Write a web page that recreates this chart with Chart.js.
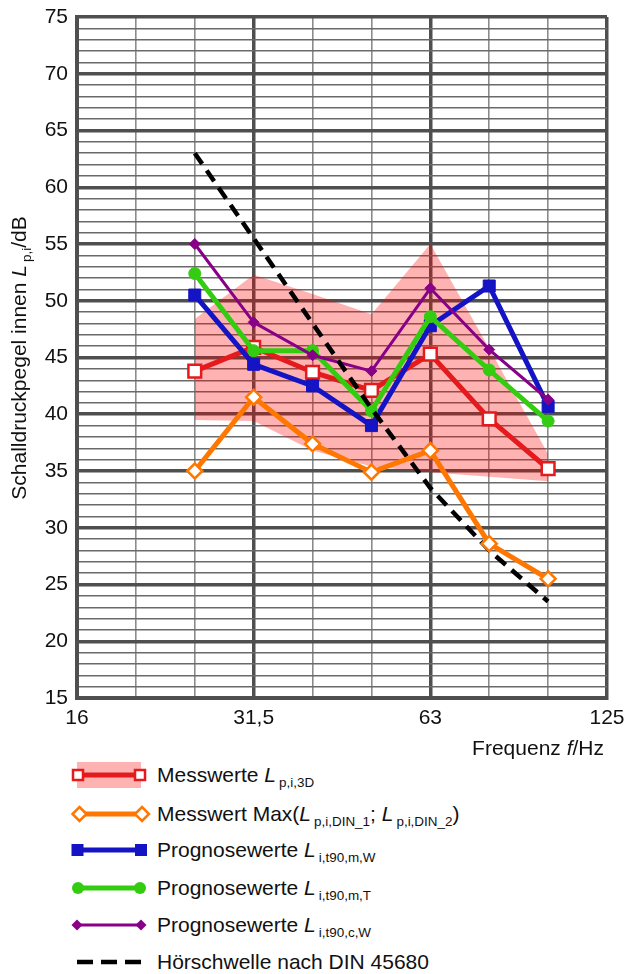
<!DOCTYPE html>
<html>
<head>
<meta charset="utf-8">
<script src="https://cdn.jsdelivr.net/npm/chart.js@4"></script>
<style>
  html, body { margin: 0; padding: 0; background: #fff; }
  body { width: 627px; height: 974px; position: relative; overflow: hidden;
         font-family: "Liberation Sans", Arial, sans-serif; color: #111; }
  #chart { position: absolute; left: 0; top: 0; }
  .ytitle { position: absolute; left: -131px; top: 346px; width: 300px; height: 24px;
            line-height: 24px; font-size: 21px; text-align: center; white-space: nowrap;
            transform: rotate(-90deg); transform-origin: 50% 50%; }
  .xtitle { position: absolute; right: 23px; top: 736px; line-height: 24px; font-size: 21px; white-space: nowrap; }
  .leg { position: absolute; left: 70px; height: 30px; display: flex; align-items: center;
         font-size: 21px; white-space: nowrap; }
  .leg svg { width: 87px; height: 30px; flex: none; }
  i { font-style: italic; }
  sub { font-size: 0.64em; vertical-align: -0.35em; line-height: 0; margin-left: 3px; }
</style>
</head>
<body>
<canvas id="chart" width="627" height="740"></canvas>

<div class="ytitle">Schalldruckpegel innen <i>L</i><sub>p,i</sub>/dB</div>
<div class="xtitle">Frequenz <i>f</i>/Hz</div>

<div class="leg" style="top:760px">
  <svg viewBox="0 0 87 30">
    <rect x="7" y="2" width="64" height="26" fill="#ffb2b2"/>
    <line x1="8" y1="15" x2="70" y2="15" stroke="#e41a1c" stroke-width="5"/>
    <rect x="3" y="10" width="10" height="10" fill="#fff" stroke="#e41a1c" stroke-width="2.5"/>
    <rect x="65" y="10" width="10" height="10" fill="#fff" stroke="#e41a1c" stroke-width="2.5"/>
  </svg>
  <span>Messwerte <i>L</i><sub>p,i,3D</sub></span>
</div>
<div class="leg" style="top:799px">
  <svg viewBox="0 0 87 30">
    <line x1="9" y1="15" x2="72" y2="15" stroke="#ff7700" stroke-width="5"/>
    <polygon points="9.5,8 16.5,15 9.5,22 2.5,15" fill="#fff" stroke="#ff7700" stroke-width="2.5"/>
    <polygon points="72,8 79,15 72,22 65,15" fill="#fff" stroke="#ff7700" stroke-width="2.5"/>
  </svg>
  <span>Messwert Max(<i>L</i><sub>p,i,DIN_1</sub>; <i>L</i><sub>p,i,DIN_2</sub>)</span>
</div>
<div class="leg" style="top:835px">
  <svg viewBox="0 0 87 30">
    <line x1="7" y1="15" x2="71" y2="15" stroke="#1414c4" stroke-width="5"/>
    <rect x="1.5" y="9" width="12" height="12" fill="#1414c4"/>
    <rect x="65" y="9" width="12" height="12" fill="#1414c4"/>
  </svg>
  <span>Prognosewerte <i>L</i><sub>i,t90,m,W</sub></span>
</div>
<div class="leg" style="top:873px">
  <svg viewBox="0 0 87 30">
    <line x1="8" y1="15" x2="70" y2="15" stroke="#33cc11" stroke-width="5"/>
    <circle cx="8" cy="15" r="6" fill="#33cc11"/>
    <circle cx="70" cy="15" r="6" fill="#33cc11"/>
  </svg>
  <span>Prognosewerte <i>L</i><sub>i,t90,m,T</sub></span>
</div>
<div class="leg" style="top:910px">
  <svg viewBox="0 0 87 30">
    <line x1="7" y1="15" x2="71" y2="15" stroke="#880088" stroke-width="3"/>
    <polygon points="7,9.5 12.5,15 7,20.5 1.5,15" fill="#880088"/>
    <polygon points="71,9.5 76.5,15 71,20.5 65.5,15" fill="#880088"/>
  </svg>
  <span>Prognosewerte <i>L</i><sub>i,t90,c,W</sub></span>
</div>
<div class="leg" style="top:947px">
  <svg viewBox="0 0 87 30">
    <line x1="7" y1="15" x2="71" y2="15" stroke="#000" stroke-width="4.5" stroke-dasharray="16 8"/>
  </svg>
  <span>Hörschwelle nach DIN 45680</span>
</div>

<script>
// third-octave bands, 16 Hz .. 125 Hz
const frequencies = ['16', '20', '25', '31,5', '40', '50', '63', '80', '100', '125'];
const labelledFreqs = ['16', '31,5', '63', '125'];

// measured and predicted levels in dB (null = no value at that band)
const messwerte   = [null, null, 43.8, 45.9, 43.7, 42.1, 45.3, 39.6, 35.2, null];
const messMax     = [null, null, 35.0, 41.5, 37.4, 34.9, 36.8, 28.6, 25.5, null];
const progMW      = [null, null, 50.5, 44.4, 42.5, 39.0, 47.8, 51.3, 40.7, null];
const progMT      = [null, null, 52.4, 45.6, 45.6, 40.3, 48.6, 43.9, 39.4, null];
const progCW      = [null, null, 55.0, 48.1, 45.2, 43.8, 51.1, 45.7, 41.3, null];
const hoerschwelle = [null, null, 63.0, 55.5, 48.0, 40.5, 33.5, 28.0, 23.5, null];

// spread of the 3D measurements (shaded band)
const bandUpper = [null, null, 48.4, 52.3, 50.6, 48.8, 55.0, 45.8, 36.5, null];
const bandLower = [null, null, 39.5, 39.4, 36.8, 35.4, 34.9, 34.5, 34.1, null];

const yTicksMajor = [15, 20, 25, 30, 35, 40, 45, 50, 55, 60, 65, 70, 75];

const RED = '#e41a1c', ORANGE = '#ff7700', BLUE = '#1414c4', GREEN = '#33cc11', PURPLE = '#880088';
const GRID_DARK = '#4f4f4f', GRID_LIGHT = '#8c8c8c';

function line(data, color, width, style, radius, opts = {}) {
  return {
    data,
    borderColor: color,
    borderWidth: width,
    pointStyle: style,
    pointRadius: radius,
    pointHoverRadius: radius,
    pointBackgroundColor: color,
    pointBorderColor: color,
    pointBorderWidth: 1,
    fill: false,
    tension: 0,
    spanGaps: false,
    ...opts,
  };
}

new Chart(document.getElementById('chart'), {
  type: 'line',
  data: {
    labels: frequencies,
    datasets: [
      { data: bandUpper, borderWidth: 0, pointRadius: 0, fill: '+1',
        backgroundColor: 'rgba(255,0,0,0.30)', order: 20 },
      { data: bandLower, borderWidth: 0, pointRadius: 0, fill: false, order: 21 },
      line(messwerte, RED, 5, 'rect', 9, { pointBackgroundColor: '#fff', pointBorderWidth: 2.5, order: 6 }),
      line(progMW, BLUE, 5, 'rect', 8.5, { order: 5 }),
      line(progMT, GREEN, 5, 'circle', 6, { order: 4 }),
      line(progCW, PURPLE, 3, 'rectRot', 5.5, { order: 3 }),
      line(hoerschwelle, '#000', 4.5, 'circle', 0, { borderDash: [13, 8], order: 2 }),
      line(messMax, ORANGE, 5, 'rectRot', 7.5, { pointBackgroundColor: '#fff', pointBorderWidth: 2.5, order: 1 }),
    ],
  },
  options: {
    responsive: false,
    devicePixelRatio: 1,
    animation: false,
    events: [],
    layout: { padding: { top: 17, right: 20, left: 0, bottom: 0 } },
    plugins: {
      legend: { display: false },
      tooltip: { enabled: false },
    },
    scales: {
      x: {
        type: 'category',
        offset: false,
        afterFit: (s) => { s.height = 42; s.paddingLeft = 0; s.paddingRight = 0; },
        grid: {
          offset: false,
          drawTicks: false,
          color: (ctx) => labelledFreqs.includes(frequencies[ctx.index]) ? GRID_DARK : GRID_LIGHT,
          lineWidth: (ctx) => labelledFreqs.includes(frequencies[ctx.index]) ? 3.5 : 1.6,
        },
        border: { display: true, color: GRID_DARK, width: 4 },
        ticks: {
          autoSkip: false,
          maxRotation: 0,
          padding: 8,
          color: '#111',
          font: { family: '"Liberation Sans", Arial, sans-serif', size: 21 },
          callback: (v, i) => labelledFreqs.includes(frequencies[i]) ? frequencies[i] : '',
        },
      },
      y: {
        min: 15,
        max: 75,
        afterFit: (s) => { s.width = 77; s.paddingTop = 0; s.paddingBottom = 0; },
        grid: {
          drawTicks: false,
          color: (ctx) => yTicksMajor.includes(ctx.tick.value) ? GRID_DARK : '#6a6a6a',
          lineWidth: (ctx) => yTicksMajor.includes(ctx.tick.value) ? 3.5 : 1.4,
        },
        border: { display: true, color: GRID_DARK, width: 4 },
        ticks: {
          stepSize: 1,
          autoSkip: false,
          padding: 9,
          color: '#111',
          font: { family: '"Liberation Sans", Arial, sans-serif', size: 21 },
          callback: (v) => yTicksMajor.includes(v) ? String(v) : '',
        },
      },
    },
  },
});
</script>
</body>
</html>
